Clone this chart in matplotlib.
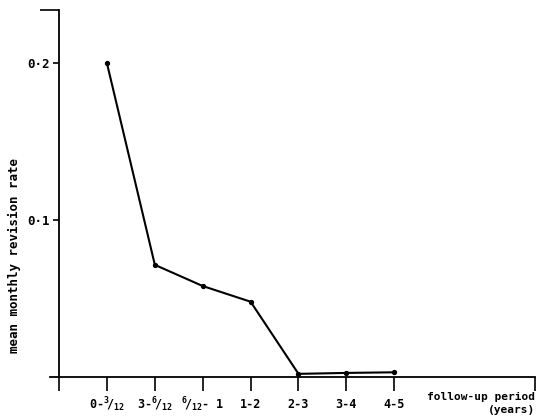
import matplotlib.pyplot as plt
from matplotlib.ticker import FixedLocator

periods = [r"0-$^{3}\!/_{12}$", r"3-$^{6}\!/_{12}$", r"$^{6}\!/_{12}$- 1",
           "1-2", "2-3", "3-4", "4-5"]
rates = [0.200, 0.0715, 0.058, 0.048, 0.002, 0.0026, 0.003]
positions = list(range(1, len(periods) + 1))

plt.rcParams["font.family"] = "DejaVu Sans Mono"
plt.rcParams["font.weight"] = "bold"
plt.rcParams["mathtext.default"] = "regular"

fig = plt.figure(figsize=(5.39, 4.18), dpi=100)
ax = fig.add_axes([50 / 539, 41 / 418, 485 / 539, 367 / 418])

ax.plot(positions, rates, color="black", lw=1.5, marker="o", ms=2.8)

ax.set_xlim(-0.19, 9.94)
ax.set_ylim(0, 0.234)

for s in ["top", "right"]:
    ax.spines[s].set_visible(False)
ax.spines["left"].set_position(("data", 0))
ax.spines["left"].set_linewidth(1.3)
ax.spines["bottom"].set_linewidth(1.3)

ax.set_xticks([0] + positions + [9.94])
ax.set_xticklabels([""] + periods + [""], fontsize=8.5, fontweight="bold")
ax.tick_params(axis="x", direction="out", length=10, width=1.2, pad=10)
for lab in ax.get_xticklabels():
    lab.set_va("center")

ax.set_yticks([0.1, 0.2])
ax.set_yticklabels(["0·1", "0·2"], fontsize=9, fontweight="bold")
ax.tick_params(axis="y", direction="out", length=4, width=1.2, pad=3)
ax.yaxis.set_minor_locator(FixedLocator([0.234]))
ax.tick_params(axis="y", which="minor", length=14, width=1.2)

ax.set_ylabel("mean monthly revision rate", fontsize=9, fontweight="bold")
ax.yaxis.set_label_coords(-0.06, 0.33)

ax.text(1.0, -0.0545, "follow-up period", transform=ax.transAxes,
        ha="right", va="center", fontsize=8, fontweight="bold")
ax.text(1.0, -0.09, "(years)", transform=ax.transAxes,
        ha="right", va="center", fontsize=8, fontweight="bold")

fig.savefig("out.png", dpi=100)
